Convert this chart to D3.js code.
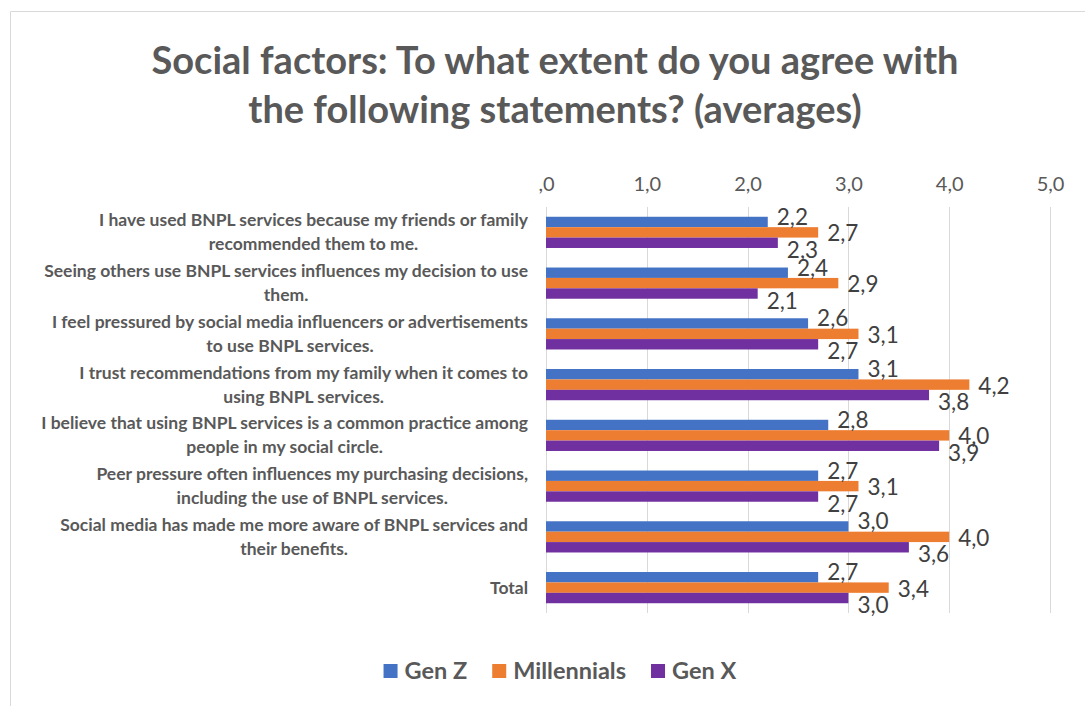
<!DOCTYPE html>
<html>
<head>
<meta charset="utf-8">
<script src="https://cdn.jsdelivr.net/npm/d3@7"></script>
<style>
  html, body { margin: 0; padding: 0; background: #ffffff; }
  svg { display: block; }
  text { font-family: Lato, "Open Sans", sans-serif; }
</style>
</head>
<body>
<svg id="chart" width="1085" height="706"></svg>
<script>
// Survey statements (line breaks mark where each label wraps)
const categories = [
  "I have used BNPL services because my friends or family\nrecommended them to me.",
  "Seeing others use BNPL services influences my decision to use\nthem.",
  "I feel pressured by social media influencers or advertisements\nto use BNPL services.",
  "I trust recommendations from my family when it comes to\nusing BNPL services.",
  "I believe that using BNPL services is a common practice among\npeople in my social circle.",
  "Peer pressure often influences my purchasing decisions,\nincluding the use of BNPL services.",
  "Social media has made me more aware of BNPL services and\ntheir benefits.",
  "Total"
];

const seriesNames = ["Gen Z", "Millennials", "Gen X"];

// Average agreement per generation
const genZ        = [2.2, 2.4, 2.6, 3.1, 2.8, 2.7, 3.0, 2.7];
const millennials = [2.7, 2.9, 3.1, 4.2, 4.0, 3.1, 4.0, 3.4];
const genX        = [2.3, 2.1, 2.7, 3.8, 3.9, 2.7, 3.6, 3.0];

const tickValues = [0, 1, 2, 3, 4, 5];
const tickLabels = [",0", "1,0", "2,0", "3,0", "4,0", "5,0"];

const titleLines = [
  "Social factors: To what extent do you agree with",
  "the following statements? (averages)"
];

const seriesValues = [genZ, millennials, genX];
const colors = ["#4472C4", "#ED7D31", "#7030A0"];

const W = 1085, H = 706;
const svg = d3.select("#chart");

// Chart frame
svg.append("path")
  .attr("d", `M10.5,${H} V11.5 H${W}`)
  .attr("fill", "none")
  .attr("stroke", "#D9D9D9")
  .attr("stroke-width", 1);

const plot = { left: 546, right: 1050, top: 207, bottom: 613 };
const centerX = 555;

// Title
svg.append("g").selectAll("text")
  .data(titleLines)
  .join("text")
  .attr("x", centerX)
  .attr("y", (d, i) => 74 + i * 49)
  .attr("text-anchor", "middle")
  .attr("font-size", 38)
  .attr("font-weight", 700)
  .attr("fill", "#595959")
  .text(d => d);

const x = d3.scaleLinear().domain([0, 5]).range([plot.left, plot.right]);

const y0 = d3.scaleBand()
  .domain(d3.range(categories.length))
  .range([plot.top, plot.bottom])
  .paddingInner(0.385)
  .paddingOuter(0.1925);

const y1 = d3.scaleBand()
  .domain(d3.range(seriesNames.length))
  .range([0, y0.bandwidth()]);

// Vertical gridlines
svg.append("g").selectAll("line")
  .data(tickValues)
  .join("line")
  .attr("x1", d => Math.round(x(d)) + 0.5)
  .attr("x2", d => Math.round(x(d)) + 0.5)
  .attr("y1", plot.top)
  .attr("y2", plot.bottom)
  .attr("stroke", "#D9D9D9")
  .attr("stroke-width", 1);

// Value axis along the top
const axis = d3.axisTop(x)
  .tickValues(tickValues)
  .tickFormat((d, i) => tickLabels[i])
  .tickSize(0)
  .tickPadding(0);

const axisG = svg.append("g")
  .attr("transform", `translate(0, 191)`)
  .call(axis);
axisG.select(".domain").remove();
axisG.selectAll("text")
  .attr("dy", 0)
  .attr("font-family", "Lato, sans-serif")
  .attr("font-size", 20)
  .attr("fill", "#595959");

// Category labels: wrapped lines centred on each other, block right aligned
const catRight = 528;
const catG = svg.append("g");
categories.forEach((c, i) => {
  const lines = c.split("\n");
  const cy = y0(i) + y0.bandwidth() / 2;
  const lh = 24;
  const block = catG.append("g");
  const texts = lines.map((ln, j) => {
    const lineCenter = cy + (j - (lines.length - 1) / 2) * lh;
    return block.append("text")
      .attr("y", lineCenter + 6)
      .attr("text-anchor", "middle")
      .attr("font-size", 17.5)
      .attr("font-weight", 700)
      .attr("fill", "#595959")
      .text(ln);
  });
  const maxW = d3.max(texts, t => t.node().getComputedTextLength());
  texts.forEach(t => t.attr("x", catRight - maxW / 2));
});

// Bars
const rows = categories.map((c, i) => ({
  i,
  values: seriesValues.map((vals, s) => ({ s, v: vals[i] }))
}));

const groups = svg.append("g").selectAll("g")
  .data(rows)
  .join("g")
  .attr("transform", d => `translate(0, ${y0(d.i)})`);

groups.selectAll("rect")
  .data(d => d.values)
  .join("rect")
  .attr("x", x(0))
  .attr("y", d => y1(d.s))
  .attr("width", d => x(d.v) - x(0))
  .attr("height", y1.bandwidth())
  .attr("fill", d => colors[d.s]);

// Value labels, spread apart vertically so neighbours don't collide
const labelStep = 16.4;
const fmt = v => v.toFixed(1).replace(".", ",");
groups.selectAll("text.val")
  .data(d => d.values)
  .join("text")
  .attr("class", "val")
  .attr("x", d => x(d.v) + 9)
  .attr("y", d => y0.bandwidth() / 2 + (d.s - 1) * labelStep + 1 + 8)
  .attr("font-size", 22.5)
  .attr("fill", "#404040")
  .text(d => fmt(d.v));

// Legend
const legend = svg.append("g");
const items = legend.selectAll("g")
  .data(seriesNames)
  .join("g");
items.append("rect")
  .attr("width", 14)
  .attr("height", 14)
  .attr("y", 664)
  .attr("fill", (d, i) => colors[i]);
items.append("text")
  .attr("x", 21)
  .attr("y", 679)
  .attr("font-size", 23.5)
  .attr("font-weight", 700)
  .attr("fill", "#595959")
  .text(d => d);

let widths = [];
items.each(function () {
  widths.push(this.getBBox().width);
});
const gap = 25;
const total = d3.sum(widths) + gap * (widths.length - 1);
let cursor = 560 - total / 2;
items.attr("transform", (d, i) => {
  const t = `translate(${cursor}, 0)`;
  cursor += widths[i] + gap;
  return t;
});
</script>
</body>
</html>
